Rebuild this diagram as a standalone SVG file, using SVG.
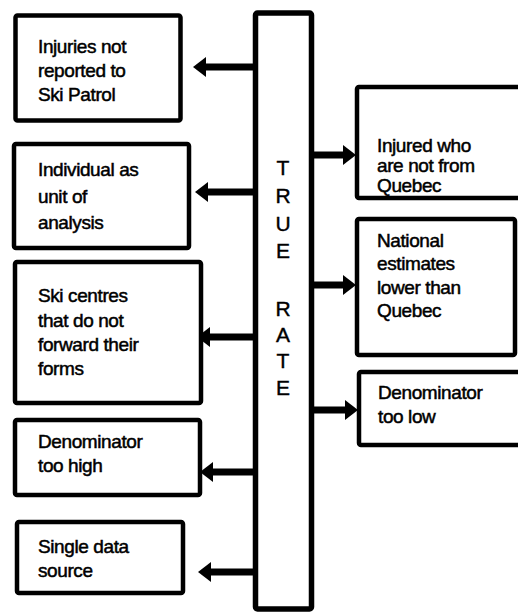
<svg xmlns="http://www.w3.org/2000/svg" width="518" height="612" viewBox="0 0 518 612">
  <style>
    .box { fill: #fff; stroke: #000; stroke-width: 4.5; }
    .bar { fill: #fff; stroke: #000; stroke-width: 5.5; }
    .lbl { font-family: "Liberation Sans", Arial, sans-serif; font-size: 19px; fill: #000; stroke: #000; stroke-width: 0.5; letter-spacing: -0.4px; }
    .big { font-family: "Liberation Sans", Arial, sans-serif; font-size: 21px; fill: #000; stroke: #000; stroke-width: 0.4; text-anchor: middle; }
    .shaft { stroke: #000; stroke-width: 7; fill: none; }
    .head { fill: #000; }
  </style>
  <rect width="518" height="612" fill="#fff"/>

  <g id="true-rate">
    <rect class="bar" x="255.5" y="13" width="56" height="596" rx="2"/>
    <text class="big" x="283" y="175">T</text>
    <text class="big" x="283" y="203">R</text>
    <text class="big" x="283" y="231">U</text>
    <text class="big" x="283" y="258">E</text>
    <text class="big" x="283" y="316">R</text>
    <text class="big" x="283" y="342">A</text>
    <text class="big" x="283" y="368">T</text>
    <text class="big" x="283" y="395">E</text>
  </g>

  <g id="connectors">
    <line class="shaft" x1="253" y1="67" x2="204" y2="67"/>
    <polygon class="head" points="193,67 206,57 206,77"/>
    <line class="shaft" x1="253" y1="192" x2="206" y2="192"/>
    <polygon class="head" points="195,192 208,182 208,202"/>
    <line class="shaft" x1="253" y1="337" x2="208" y2="337"/>
    <polygon class="head" points="197,337 210,327 210,347"/>
    <line class="shaft" x1="253" y1="472" x2="211" y2="472"/>
    <polygon class="head" points="200,472 213,462 213,482"/>
    <line class="shaft" x1="253" y1="572" x2="209" y2="572"/>
    <polygon class="head" points="198,572 211,562 211,582"/>

    <line class="shaft" x1="314" y1="155" x2="345" y2="155"/>
    <polygon class="head" points="356,155 343,145 343,165"/>
    <line class="shaft" x1="314" y1="285" x2="345" y2="285"/>
    <polygon class="head" points="356,285 343,275 343,295"/>
    <line class="shaft" x1="314" y1="410" x2="347" y2="410"/>
    <polygon class="head" points="358,410 345,400 345,420"/>
  </g>

  <g id="injuries-not-reported">
    <rect class="box" x="15.5" y="15.5" width="165" height="105" rx="2"/>
    <text class="lbl" x="38" y="53">Injuries not</text>
    <text class="lbl" x="38" y="77">reported to</text>
    <text class="lbl" x="38" y="101">Ski Patrol</text>
  </g>

  <g id="individual-unit">
    <rect class="box" x="14" y="144" width="175" height="104" rx="2"/>
    <text class="lbl" x="38" y="176">Individual as</text>
    <text class="lbl" x="38" y="203">unit of</text>
    <text class="lbl" x="38" y="229">analysis</text>
  </g>

  <g id="ski-centres">
    <rect class="box" x="15" y="262" width="186" height="141" rx="2"/>
    <text class="lbl" x="38" y="302">Ski centres</text>
    <text class="lbl" x="38" y="327">that do not</text>
    <text class="lbl" x="38" y="351">forward their</text>
    <text class="lbl" x="38" y="375">forms</text>
  </g>

  <g id="denominator-high">
    <rect class="box" x="15" y="420" width="185" height="75" rx="2"/>
    <text class="lbl" x="38" y="448">Denominator</text>
    <text class="lbl" x="38" y="472">too high</text>
  </g>

  <g id="single-source">
    <rect class="box" x="17" y="522" width="166" height="71" rx="2"/>
    <text class="lbl" x="38" y="553">Single data</text>
    <text class="lbl" x="38" y="577">source</text>
  </g>

  <g id="injured-not-quebec">
    <rect class="box" x="357" y="87" width="200" height="111" rx="2"/>
    <text class="lbl" x="377" y="152">Injured who</text>
    <text class="lbl" x="377" y="172">are not from</text>
    <text class="lbl" x="377" y="192">Quebec</text>
  </g>

  <g id="national-estimates">
    <rect class="box" x="357" y="219" width="158" height="136" rx="2"/>
    <text class="lbl" x="377" y="247">National</text>
    <text class="lbl" x="377" y="270">estimates</text>
    <text class="lbl" x="377" y="294">lower than</text>
    <text class="lbl" x="377" y="317">Quebec</text>
  </g>

  <g id="denominator-low">
    <rect class="box" x="359" y="372" width="200" height="73" rx="2"/>
    <text class="lbl" x="378" y="399">Denominator</text>
    <text class="lbl" x="378" y="423">too low</text>
  </g>
</svg>
